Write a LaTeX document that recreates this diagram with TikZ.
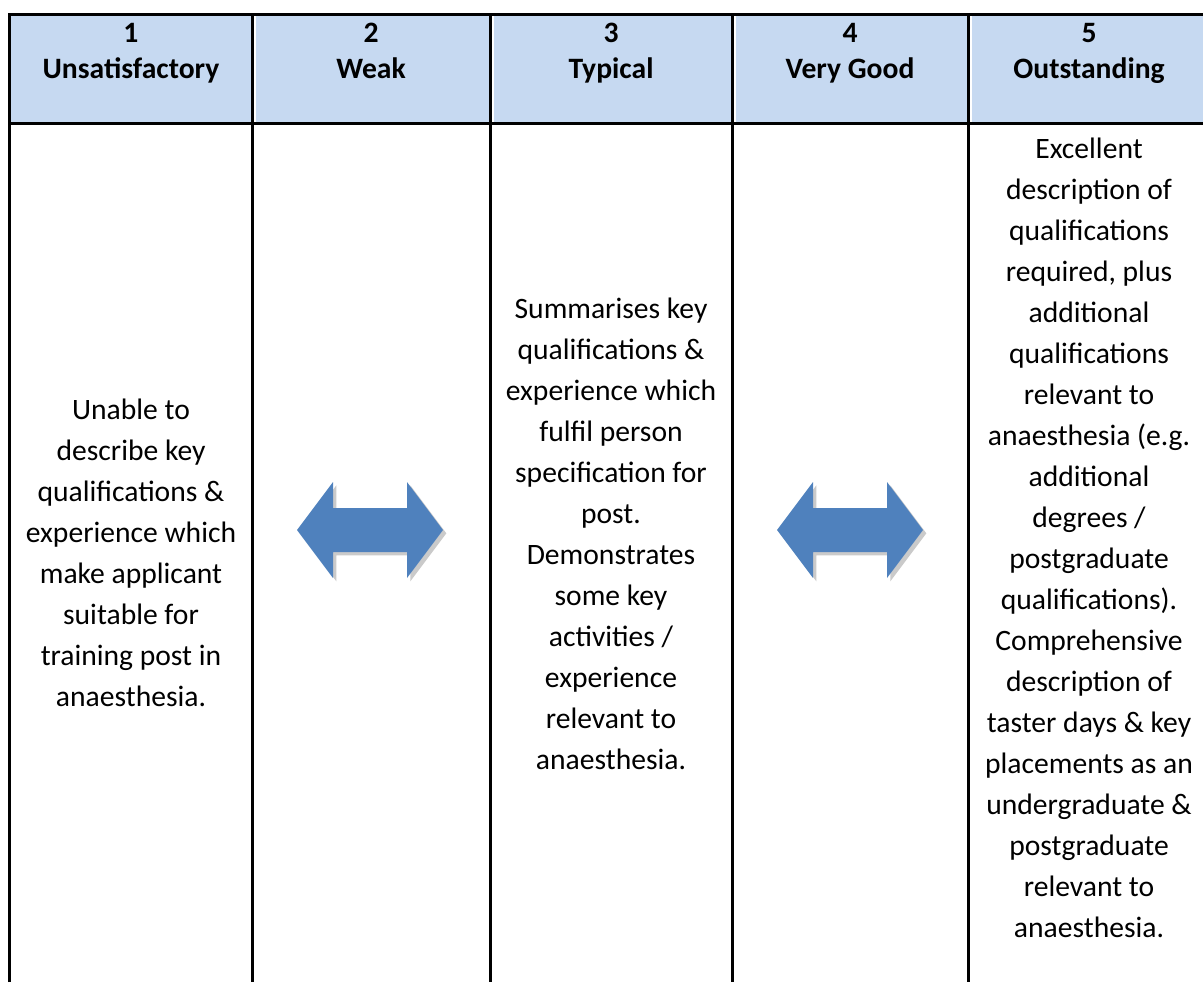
\documentclass[tikz,border=0pt]{standalone}
\usepackage{fontspec}
\setmainfont{Carlito}
\definecolor{headblue}{HTML}{C6D9F1}
\definecolor{arrowblue}{HTML}{4F81BD}

\begin{document}
\begin{tikzpicture}[x=0.75pt,y=-0.75pt,
  head/.style={align=center,anchor=north,inner sep=0pt,font=\fontsize{22.2}{27}\selectfont\bfseries},
  cell/.style={align=center,font=\fontsize{22.2}{30.75}\selectfont},
  rule/.style={line width=2.25pt}]
\useasboundingbox (0,0) rectangle (1203,982);
\clip (0,0) rectangle (1203,982);

% header row
\fill[headblue] (9.5,14) rectangle (1212,123);
\foreach \x in {252,490,732,968.5}
  \fill[white] (\x,14) rectangle (\x+3.5,123);
\draw[rule] (9.5,982) -- (9.5,14) -- (1212,14);
\draw[rule] (9.5,123) -- (1212,123);
\foreach \x in {252,490,732,968.5,1212}
  \draw[rule] (\x,14) -- (\x,982);

\node[head] (h1) at (131,23) {1\\Unsatisfactory};
\node[head] (h2) at (371,23) {2\\Weak};
\node[head] (h3) at (611,23) {3\\Typical};
\node[head] (h4) at (850,23) {4\\Very Good};
\node[head] (h5) at (1089,23) {5\\Outstanding};

% double arrows between the descriptions
\foreach \c in {370,850} {
  \fill[black!35,opacity=.6,xshift=2.5pt,yshift=-2.5pt]
    ({\c-73},530) -- ({\c-37},482) -- ({\c-37},508) -- ({\c+37},508) -- ({\c+37},482)
    -- ({\c+73},530) -- ({\c+37},578) -- ({\c+37},552) -- ({\c-37},552) -- ({\c-37},578) -- cycle;
  \fill[arrowblue]
    ({\c-73},530) -- ({\c-37},482) -- ({\c-37},508) -- ({\c+37},508) -- ({\c+37},482)
    -- ({\c+73},530) -- ({\c+37},578) -- ({\c+37},552) -- ({\c-37},552) -- ({\c-37},578) -- cycle;
}

\node[cell] (c1) at (131,553) {Unable to\\describe key\\qualifications \&\\experience which\\make applicant\\suitable for\\training post in\\anaesthesia.};
\node[cell] (c3) at (611,534) {Summarises key\\qualifications \&\\experience which\\fulfil person\\specification for\\post.\\Demonstrates\\some key\\activities /\\experience\\relevant to\\anaesthesia.};
\node[cell] (c5) at (1089,538) {Excellent\\description of\\qualifications\\required, plus\\additional\\qualifications\\relevant to\\anaesthesia (e.g.\\additional\\degrees /\\postgraduate\\qualifications).\\Comprehensive\\description of\\taster days \& key\\placements as an\\undergraduate \&\\postgraduate\\relevant to\\anaesthesia.};
\end{tikzpicture}
\end{document}
